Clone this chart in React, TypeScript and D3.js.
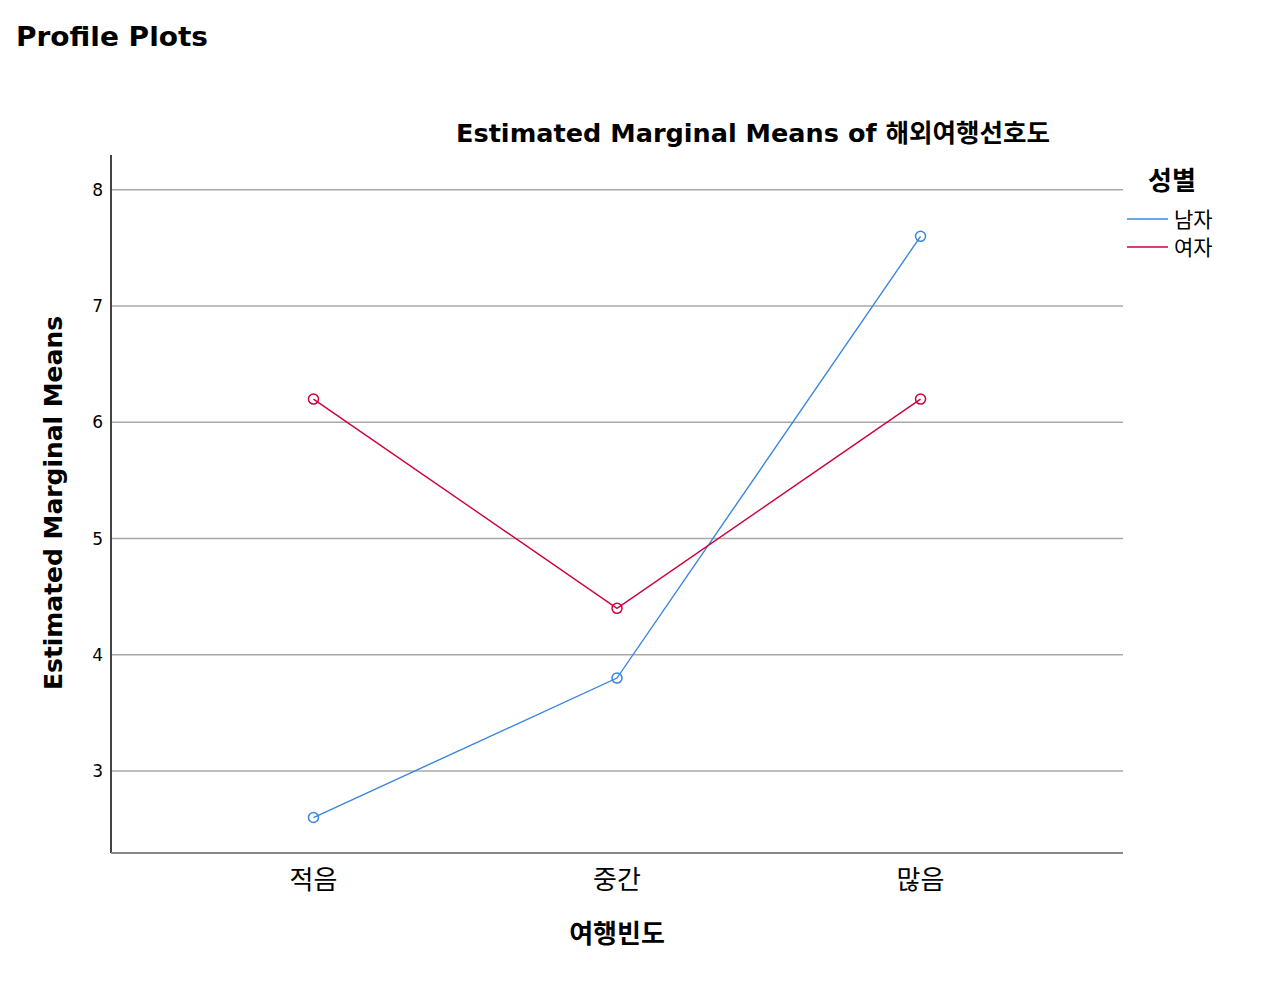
import React from "react";
import * as d3 from "d3";

const categories = ["적음", "중간", "많음"];
const seriesNames = ["남자", "여자"];
const maleValues = [2.6, 3.8, 7.6];
const femaleValues = [6.2, 4.4, 6.2];
const yTicks = [3, 4, 5, 6, 7, 8];
const colors = ["#3a86e0", "#d0003c"];

const W = 1280;
const H = 1003;
const left = 111;
const right = 1123;
const top = 155;
const bottom = 853;

export default function App() {
  const x = d3.scalePoint<string>().domain(categories).range([left, right]).padding(0.667);
  const y = d3.scaleLinear().domain([2.295, 8.3]).range([bottom, top]);
  const series = [maleValues, femaleValues];
  const line = d3
    .line<number>()
    .x((_, i) => x(categories[i]) as number)
    .y((d) => y(d));
  const font = "'DejaVu Sans', 'Noto Sans CJK KR', sans-serif";
  const kfont = "'Noto Sans CJK KR', sans-serif";

  return (
    <svg
      width={W}
      height={H}
      style={{ position: "absolute", left: 0, top: 0, background: "#fff" }}
      fontFamily={font}
    >
      <text x={16} y={46} fontSize={27} fontWeight="bold" fill="#000" textLength={192} lengthAdjust="spacingAndGlyphs">
        Profile Plots
      </text>
      <text x={753} y={142} fontSize={25} fontWeight="bold" textAnchor="middle" fill="#000" textLength={594} lengthAdjust="spacingAndGlyphs">
        Estimated Marginal Means of <tspan fontFamily={kfont}>해외여행선호도</tspan>
      </text>
      {yTicks.map((t) => (
        <g key={t}>
          <line x1={left} x2={right} y1={y(t)} y2={y(t)} stroke="#a8a8a8" strokeWidth={1.5} />
          <text x={103} y={y(t) + 6} fontSize={17} textAnchor="end" fill="#000">
            {t}
          </text>
        </g>
      ))}
      <line x1={left} x2={left} y1={top} y2={bottom} stroke="#444" strokeWidth={2} />
      <line x1={left} x2={right} y1={bottom} y2={bottom} stroke="#888" strokeWidth={2} />
      {categories.map((c) => (
        <text key={c} x={x(c)} y={889} fontSize={26} textAnchor="middle" fill="#000" fontFamily={kfont}>
          {c}
        </text>
      ))}
      <text x={617} y={943} fontSize={26} fontWeight="bold" textAnchor="middle" fill="#000" fontFamily={kfont}>
        여행빈도
      </text>
      <text
        transform={`translate(62,503) rotate(-90)`}
        fontSize={25}
        fontWeight="bold"
        textAnchor="middle"
        fill="#000"
        textLength={374}
        lengthAdjust="spacingAndGlyphs"
      >
        Estimated Marginal Means
      </text>
      {series.map((vals, si) => (
        <g key={si}>
          <path d={line(vals) || ""} fill="none" stroke={colors[si]} strokeWidth={1.4} />
          {vals.map((v, i) => (
            <circle
              key={i}
              cx={x(categories[i])}
              cy={y(v)}
              r={5}
              fill="none"
              stroke={colors[si]}
              strokeWidth={1.5}
            />
          ))}
        </g>
      ))}
      <text x={1172} y={190} fontSize={26} fontWeight="bold" textAnchor="middle" fill="#000" fontFamily={kfont}>
        성별
      </text>
      {seriesNames.map((n, i) => (
        <g key={n}>
          <line x1={1127} x2={1168} y1={219 + i * 28} y2={219 + i * 28} stroke={colors[i]} strokeWidth={1.5} />
          <text x={1174} y={227 + i * 28} fontSize={21} fill="#000" fontFamily={kfont}>
            {n}
          </text>
        </g>
      ))}
    </svg>
  );
}
